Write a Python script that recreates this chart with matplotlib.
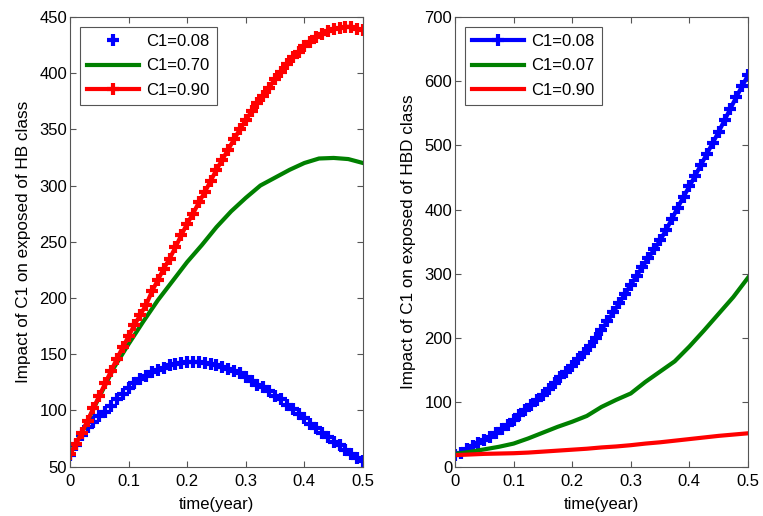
import matplotlib
matplotlib.use("Agg")
import matplotlib.pyplot as plt
import numpy as np

plt.rcParams['font.family'] = ['Liberation Sans', 'DejaVu Sans']

# ---------------- data: left panel (HB class) ----------------
t_fine = [i / 100 for i in range(51)]
t_coarse = [i / 40 for i in range(21)]

hb_c008 = [60, 69, 78, 85, 90, 95, 99, 104, 110, 115,
           120, 124, 128, 131, 134, 136, 138, 140, 141, 142,
           143, 143.5, 143, 142, 141, 140, 139, 137, 135, 133,
           130, 126, 123, 121, 117, 113, 110, 105, 101, 97,
           93, 88, 84, 80, 76, 72, 69, 65, 61, 58, 55]
hb_c070 = [61, 85, 112, 138, 159, 179, 198, 215, 232, 247,
           263, 277, 289, 300, 307, 314, 320, 324, 324.5, 323.5, 320]
hb_c090 = [61, 70, 80, 91, 102, 113, 124, 135, 146, 156,
           166, 176, 185, 194, 206, 216, 226, 235, 245, 256,
           266, 275, 285, 294, 304, 314, 323, 332, 341, 350,
           358, 366, 373, 380, 387, 395, 401, 408, 414, 419,
           424, 428, 432, 435, 437, 439, 440, 441, 441, 439, 438]

# ---------------- data: right panel (HBD class) ----------------
hbd_c008 = [18, 22, 27, 32, 37, 42, 47, 53, 59, 65,
            72, 80, 88, 96, 104, 112, 121, 130, 139, 148,
            157, 167, 177, 188, 200, 213, 226, 240, 254, 269,
            283, 297, 311, 325, 338, 352, 368, 385, 403, 420,
            436, 453, 470, 487, 504, 521, 539, 557, 575, 592, 609]
hbd_c007 = [20, 23, 27, 31, 36, 44, 53, 62, 70, 79,
            93, 104, 114, 132, 148, 164, 187, 212, 238, 264, 294]
hbd_c090 = [18, 19, 20, 20.5, 21, 22, 23.5, 25, 26.5, 28,
            30, 31.5, 33.5, 36, 38, 40.5, 43, 45.5, 48, 50, 52]

legend_left = ['C1=0.08', 'C1=0.70', 'C1=0.90']
legend_right = ['C1=0.08', 'C1=0.07', 'C1=0.90']
x_ticks = [0, 0.1, 0.2, 0.3, 0.4, 0.5]
x_ticklabels = ['0', '0.1', '0.2', '0.3', '0.4', '0.5']

fig = plt.figure(figsize=(7.63, 5.16), dpi=100)
ax1 = fig.add_axes([0.0917, 0.0955, 0.384, 0.872])
ax2 = fig.add_axes([0.5963, 0.0955, 0.384, 0.872])

lw = 3.0
ms = 9
mew = 3

ax1.plot(t_fine, hb_c008, linestyle='none', marker='+', color='#0000ff',
         markersize=ms, markeredgewidth=mew, label=legend_left[0])
ax1.plot(t_coarse, hb_c070, color='#008000', lw=lw, label=legend_left[1])
ax1.plot(t_fine, hb_c090, color='#ff0000', lw=lw, marker='+',
         markersize=ms, markeredgewidth=mew, label=legend_left[2])

ax2.plot(t_fine, hbd_c008, color='#0000ff', lw=lw, marker='+',
         markersize=ms, markeredgewidth=mew, label=legend_right[0])
ax2.plot(t_coarse, hbd_c007, color='#008000', lw=lw, label=legend_right[1])
ax2.plot(t_coarse, hbd_c090, color='#ff0000', lw=lw, label=legend_right[2])

ax1.set_xlim(0, 0.5)
ax1.set_ylim(50, 450)
ax1.set_yticks([50, 100, 150, 200, 250, 300, 350, 400, 450])
ax2.set_xlim(0, 0.5)
ax2.set_ylim(0, 700)
ax2.set_yticks([0, 100, 200, 300, 400, 500, 600, 700])

ax1.set_ylabel('Impact of C1 on exposed of HB class', fontsize=12.3, labelpad=6)
ax2.set_ylabel('Impact of C1 on exposed of HBD class', fontsize=12.3, labelpad=6)

for ax in (ax1, ax2):
    ax.set_xticks(x_ticks)
    ax.set_xticklabels(x_ticklabels)
    ax.set_xlabel('time(year)', fontsize=12, labelpad=6)
    ax.tick_params(direction='in', top=True, right=True, length=4,
                   width=0.8, colors='#555555', labelcolor='black',
                   labelsize=12)
    ax.tick_params(axis='y', pad=2)
    ax.tick_params(axis='x', pad=5)
    for s in ax.spines.values():
        s.set_color('#555555')
        s.set_linewidth(0.8)
    leg = ax.legend(loc='upper left', fontsize=12, handlelength=3.1,
                    fancybox=False, framealpha=1, edgecolor='#555555',
                    borderpad=0.45, labelspacing=0.55, handletextpad=0.4,
                    borderaxespad=0.6)
    leg.get_frame().set_linewidth(0.8)

fig.savefig('out.png', dpi=100)
